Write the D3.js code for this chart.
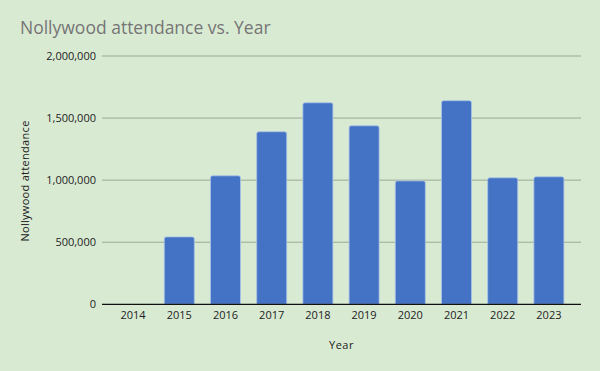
<!DOCTYPE html>
<html><head><meta charset="utf-8">
<script src="https://cdn.jsdelivr.net/npm/d3@7"></script>
<style>html,body{margin:0;padding:0;background:#d9ead3;}svg{display:block;font-family:"Open Sans",sans-serif;}</style>
</head><body>
<script>
const years = ["2014","2015","2016","2017","2018","2019","2020","2021","2022","2023"];
const attendance = [0,543000,1035000,1390000,1623000,1438000,994000,1640000,1019000,1027000];
const yTicks = [0,500000,1000000,1500000,2000000];

const W=600,H=371;
const svg=d3.select("body").append("svg").attr("width",W).attr("height",H);
svg.append("rect").attr("width",W).attr("height",H).attr("fill","#d9ead3");

const x=d3.scaleBand().domain(years).range([110,572]).paddingInner(0.35).paddingOuter(0.175);
const y=d3.scaleLinear().domain([0,2000000]).range([304.3,56]);
const gx0=102, gx1=581;

// gridlines
svg.append("g").selectAll("line").data(yTicks.filter(d=>d>0)).join("line")
 .attr("x1",gx0).attr("x2",gx1).attr("y1",d=>y(d)).attr("y2",d=>y(d))
 .attr("stroke","#9aa895").attr("stroke-width",1);

// y labels
svg.append("g").selectAll("text").data(yTicks).join("text")
 .attr("x",96).attr("y",d=>y(d)).attr("dy","0.35em").attr("text-anchor","end")
 .attr("font-size",11).attr("fill","#222").text(d=>d3.format(",")(d));

// bars
const r=2;
svg.append("g").selectAll("path").data(years.map((d,i)=>({year:d,v:attendance[i]})).filter(d=>d.v>0)).join("path")
 .attr("d",d=>{const x0=x(d.year),w=x.bandwidth(),y0=y(d.v),y1=y(0);
   return `M${x0},${y1}V${y0+r}Q${x0},${y0} ${x0+r},${y0}H${x0+w-r}Q${x0+w},${y0} ${x0+w},${y0+r}V${y1}Z`;})
 .attr("fill","#4472c4").attr("stroke","#a9c4e8").attr("stroke-width",0.8);

// baseline
svg.append("line").attr("x1",gx0).attr("x2",gx1).attr("y1",y(0)).attr("y2",y(0)).attr("stroke","#111").attr("stroke-width",1.2);

// x labels
svg.append("g").selectAll("text").data(years).join("text")
 .attr("x",d=>x(d)+x.bandwidth()/2).attr("y",319).attr("text-anchor","middle")
 .attr("font-size",11).attr("fill","#222").text(d=>d);

// axis titles
svg.append("text").attr("x",341.5).attr("y",349).attr("text-anchor","middle").attr("font-size",11).attr("fill","#222").attr("letter-spacing","0.5px").text("Year");
svg.append("text").attr("transform","translate(28.5,181) rotate(-90)").attr("text-anchor","middle").attr("font-size",11).attr("fill","#222").attr("letter-spacing","0.3px").text("Nollywood attendance");

// title
svg.append("text").attr("x",20).attr("y",34).attr("font-size",17.5).attr("fill","#757575").text("Nollywood attendance vs. Year");
</script>
</body></html>
